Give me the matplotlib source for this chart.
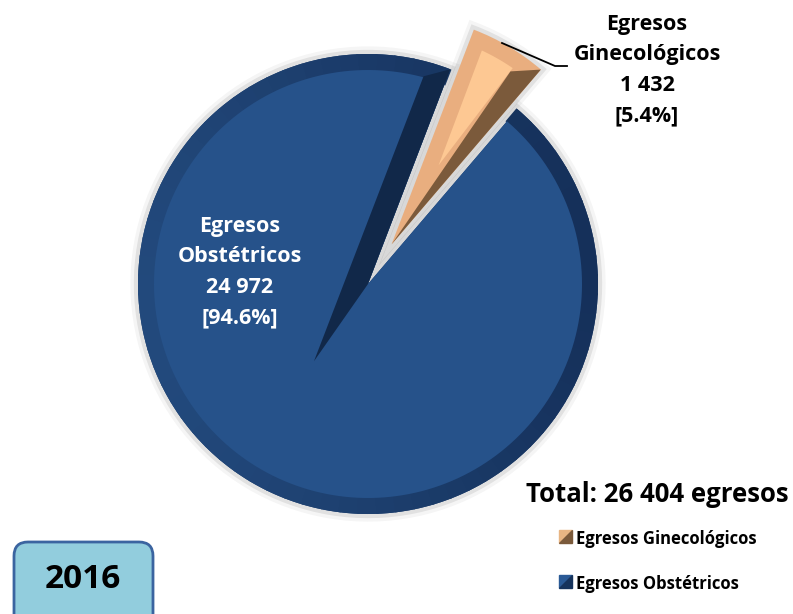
import numpy as np
import matplotlib.pyplot as plt
import matplotlib.patheffects as pe
from matplotlib.patches import Polygon, FancyBboxPatch, Wedge
from matplotlib.colors import to_rgb

plt.rcParams['font.family'] = ['Open Sans', 'DejaVu Sans']

# data
categorias = ['Egresos Ginecológicos', 'Egresos Obstétricos']
etiquetas = [['Egresos', 'Ginecológicos'], ['Egresos', 'Obstétricos']]
egresos = [1432, 24972]
anio = '2016'

# colours: rim, face, side stripe
col_rim = ['#e9ae7f', '#1d3f6e']
col_face = ['#fdc893', '#26528a']
col_side = ['#7b5a3b', '#112849']

W, H = 793, 614
fig = plt.figure(figsize=(W / 100, H / 100), dpi=100)
ax = fig.add_axes([0, 0, 1, 1])

R = 230
C = (368, H - 284)
total = sum(egresos)
pct = [100 * v / total for v in egresos]

glow = [pe.Stroke(linewidth=11, foreground='#000000', alpha=0.04),
        pe.Stroke(linewidth=6, foreground='#000000', alpha=0.08),
        pe.Normal()]

# explode is in data units here (pixels)
wedges, _ = ax.pie(egresos, colors=col_rim, startangle=49.5, radius=R, center=C,
                   explode=[46, 0], wedgeprops=dict(linewidth=0))
for w in wedges:
    w.set_path_effects(glow)

ax.set_xlim(0, W)
ax.set_ylim(0, H)
ax.set_aspect('auto')
ax.axis('off')


def pt(c, r, ang):
    a = np.radians(ang)
    return (c[0] + r * np.cos(a), c[1] + r * np.sin(a))


def bevel(w, face, side, i):
    c, r, t1, t2 = w.center, w.r, w.theta1, w.theta2
    if i == 0:
        mid = (t1 + t2) / 2
        apex = pt(c, 0.40 * r, mid)
        arc = [pt(c, r - 16, a) for a in np.linspace(t1 + 6, t2 - 4, 20)]
        ax.add_patch(Polygon([apex] + arc, closed=True, color=face, lw=0))
        ax.add_patch(Polygon([c, pt(c, r, t1), pt(c, r - 20, t1 + 6)], closed=True, color=side, lw=0))
    else:
        # rim shading: lighter on the left, darker on the right
        light, dark = np.array(to_rgb('#22497c')), np.array(to_rgb('#15305a'))
        edges = np.linspace(t1, t2, 73)
        for a0, a1 in zip(edges[:-1], edges[1:]):
            k = (1 + np.cos(np.radians((a0 + a1) / 2 - 190))) / 2
            ax.add_patch(Wedge(c, r, a0 - 0.3, a1 + 0.3, width=17, color=dark + (light - dark) * k, lw=0))
        arc = [pt(c, r - 16, a) for a in np.linspace(t1, t2, 200)]
        ax.add_patch(Polygon([c] + arc, closed=True, color=face, lw=0))
        ax.add_patch(Polygon([pt(c, 0.41 * r, t1 + 166), c, pt(c, r, t1), pt(c, r - 15, t1 + 6)],
                             closed=True, color=side, lw=0))


for i, w in enumerate(wedges):
    bevel(w, col_face[i], col_side[i], i)


def fmt(v):
    return f'{v:,}'.replace(',', ' ')


# labels
ax.text(240, H - 272, '\n'.join(etiquetas[1] + [fmt(egresos[1]), f'[{pct[1]:.1f}%]']),
        ha='center', va='center', color='white', fontsize=15.5, fontweight='bold', linespacing=1.6)
ax.text(647, H - 70, '\n'.join(etiquetas[0] + [fmt(egresos[0]), f'[{pct[0]:.1f}%]']),
        ha='center', va='center', color='black', fontsize=15.5, fontweight='bold', linespacing=1.6)
ax.plot([502, 555, 567], [H - 43, H - 66, H - 66], color='black', lw=1.3)

ax.text(657, H - 495, f'Total: {fmt(total)} egresos', ha='center', va='center',
        fontsize=18.5, fontweight='bold')


# legend with split squares
class SplitHandler:
    def __init__(self, light, dark):
        self.light, self.dark = light, dark

    def legend_artist(self, legend, orig_handle, fontsize, handlebox):
        x0, y0 = handlebox.xdescent, handlebox.ydescent
        s = handlebox.height
        x0 = x0 + handlebox.width - s
        p1 = Polygon([[x0, y0], [x0, y0 + s], [x0 + s, y0 + s]], color=self.light,
                     transform=handlebox.get_transform())
        p2 = Polygon([[x0, y0], [x0 + s, y0], [x0 + s, y0 + s]], color=self.dark,
                     transform=handlebox.get_transform())
        handlebox.add_artist(p1)
        handlebox.add_artist(p2)
        return p1


handlers = {wedges[0]: SplitHandler('#e8b583', '#7b5a3b'),
            wedges[1]: SplitHandler('#2a5a96', '#16335c')}
ax.legend(wedges, categorias, handler_map=handlers, loc='upper left',
          bbox_to_anchor=(543 / W, 1 - 515 / H), frameon=False, handlelength=0.85,
          handleheight=0.85, handletextpad=0.25, labelspacing=1.6,
          prop=dict(weight='bold', size=12))

# year box
ax.add_patch(FancyBboxPatch((14, H - 640), 139, 98, boxstyle='round,pad=0,rounding_size=14',
                            fc='#92cddd', ec='#3b64a0', lw=2, clip_on=True))
ax.text(83, H - 579, anio, ha='center', va='center', fontsize=24, fontweight='bold')

fig.savefig('out.png', dpi=100)
